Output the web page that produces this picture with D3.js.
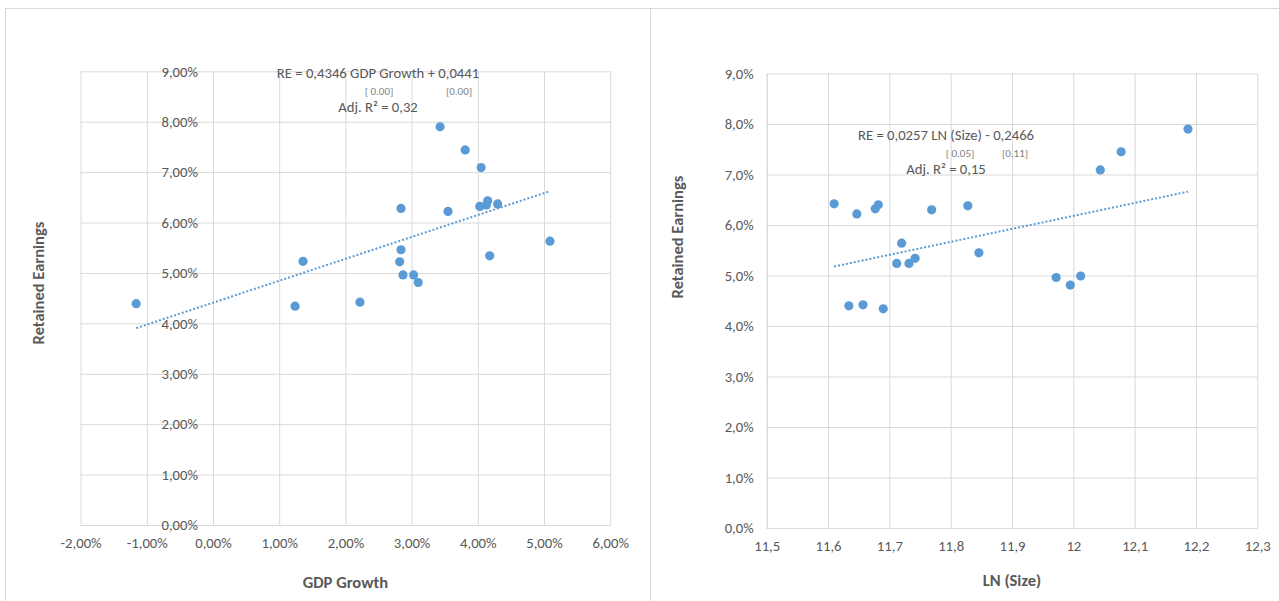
<!DOCTYPE html>
<html>
<head>
<meta charset="utf-8">
<script src="https://cdn.jsdelivr.net/npm/d3@7"></script>
<style>
  body { margin: 0; background: #ffffff; }
  svg text { font-family: Calibri, Carlito, "Liberation Sans", Arial, sans-serif; }
</style>
</head>
<body>
<svg id="chart" width="1279" height="601"></svg>
<script>
// Retained earnings against GDP growth (one point per year)
const gdpGrowth = [-0.0116, 0.0124, 0.0136, 0.0222, 0.0282, 0.0284, 0.0284, 0.0287, 0.0303, 0.0310,
                   0.0343, 0.0355, 0.0381, 0.0403, 0.0405, 0.0413, 0.0415, 0.0418, 0.0430, 0.0509];
const reByGdp   = [0.0439, 0.0434, 0.0523, 0.0442, 0.0522, 0.0546, 0.0628, 0.0496, 0.0496, 0.0481,
                   0.0790, 0.0622, 0.0744, 0.0632, 0.0709, 0.0635, 0.0643, 0.0534, 0.0637, 0.0563];

// Retained earnings against LN (Size)
const lnSize    = [11.610, 11.634, 11.647, 11.657, 11.677, 11.682, 11.690, 11.712, 11.720, 11.732,
                   11.742, 11.769, 11.828, 11.846, 11.972, 11.995, 12.012, 12.044, 12.078, 12.187];
const reBySize  = [0.0642, 0.0440, 0.0622, 0.0442, 0.0632, 0.0640, 0.0434, 0.0524, 0.0564, 0.0524,
                   0.0534, 0.0630, 0.0638, 0.0545, 0.0496, 0.0481, 0.0499, 0.0709, 0.0745, 0.0790];

// Axis ticks
const gdpTicks  = [-0.02, -0.01, 0, 0.01, 0.02, 0.03, 0.04, 0.05, 0.06];
const sizeTicks = [11.5, 11.6, 11.7, 11.8, 11.9, 12.0, 12.1, 12.2, 12.3];
const reTicks   = [0, 0.01, 0.02, 0.03, 0.04, 0.05, 0.06, 0.07, 0.08, 0.09];

// Fitted regression lines
const gdpFit  = { slope: 0.4346, intercept: 0.0441 };
const sizeFit = { slope: 0.0257, intercept: -0.2466 };

// Equation annotations
const gdpEquation  = "RE = 0,4346 GDP Growth + 0,0441";
const gdpPValues   = ["[ 0.00]", "[0.00]"];
const gdpR2        = "Adj. R² = 0,32";
const sizeEquation = "RE = 0,0257 LN (Size) - 0,2466";
const sizePValues  = ["[ 0.05]", "[0.11]"];
const sizeR2       = "Adj. R² = 0,15";

const GRID = "#d9d9d9";
const TEXT = "#595959";
const DOT  = "#5b9bd5";
const FS = 14.7;        // tick and annotation text
const FS_TITLE = 16.5;  // axis titles

const loc = d3.formatLocale({ decimal: ",", thousands: ".", grouping: [3], currency: ["", ""], minus: "-" });
const pct2 = loc.format(".2%");
const pct1 = loc.format(".1%");
const num1 = v => (Math.abs(v - Math.round(v)) < 1e-9 ? String(Math.round(v)) : loc.format(".1f")(v));

const svg = d3.select("#chart");

// Chart frames
svg.append("rect").attr("x", 5.5).attr("y", 8.5).attr("width", 645).attr("height", 700)
  .attr("fill", "none").attr("stroke", GRID);
svg.append("rect").attr("x", 650.5).attr("y", 8.5).attr("width", 700).attr("height", 700)
  .attr("fill", "none").attr("stroke", GRID);

function panel(cfg) {
  const g = svg.append("g");
  const x = d3.scaleLinear().domain(cfg.xDomain).range(cfg.xRange);
  const y = d3.scaleLinear().domain([0, 0.09]).range(cfg.yRange);
  const [x0, x1] = cfg.xRange;
  const [y0, y1] = cfg.yRange;

  // horizontal gridlines
  g.append("g").attr("transform", `translate(${x0},0)`)
    .call(d3.axisLeft(y).tickValues(reTicks).tickSize(-(x1 - x0)).tickFormat(""))
    .call(a => a.select(".domain").remove())
    .call(a => a.selectAll(".tick line").attr("stroke", GRID));

  // vertical gridlines + x tick labels
  g.append("g").attr("transform", `translate(0,${y0})`)
    .call(d3.axisBottom(x).tickValues(cfg.xTicks).tickSize(-(y0 - y1)).tickSizeOuter(0)
      .tickPadding(13).tickFormat(cfg.xFormat))
    .call(a => a.select(".domain").attr("stroke", GRID))
    .call(a => a.selectAll(".tick line").attr("stroke", GRID))
    .call(a => a.selectAll("text").attr("fill", TEXT).attr("font-size", FS));

  // y axis line and labels
  g.append("g").attr("transform", `translate(${x(cfg.yAxisAt)},0)`)
    .call(d3.axisLeft(y).tickValues(reTicks).tickSize(0).tickPadding(cfg.yPad).tickFormat(cfg.yFormat))
    .call(a => a.select(".domain").attr("stroke", GRID))
    .call(a => a.selectAll("text").attr("fill", TEXT).attr("font-size", FS));

  // axis titles
  g.append("text").attr("x", (x0 + x1) / 2).attr("y", cfg.xTitleY)
    .attr("text-anchor", "middle").attr("font-size", FS_TITLE).attr("font-weight", "bold")
    .attr("fill", TEXT).text(cfg.xTitle);
  g.append("text")
    .attr("transform", `translate(${cfg.yTitlePos[0]},${cfg.yTitlePos[1]}) rotate(-90)`)
    .attr("text-anchor", "middle").attr("dy", "0.35em").attr("font-size", FS_TITLE).attr("font-weight", "bold")
    .attr("fill", TEXT).text("Retained Earnings");

  // trendline over the observed range
  const ext = d3.extent(cfg.xs);
  g.append("line")
    .attr("x1", x(ext[0])).attr("y1", y(cfg.fit.slope * ext[0] + cfg.fit.intercept))
    .attr("x2", x(ext[1])).attr("y2", y(cfg.fit.slope * ext[1] + cfg.fit.intercept))
    .attr("stroke", DOT).attr("stroke-width", 2).attr("stroke-dasharray", "2 2");

  // observations
  g.selectAll("circle").data(d3.zip(cfg.xs, cfg.ys)).join("circle")
    .attr("cx", d => x(d[0])).attr("cy", d => y(d[1])).attr("r", 4.6).attr("fill", DOT);

  // regression annotation
  const [ex, ey] = cfg.eqPos;
  g.append("text").attr("x", ex).attr("y", ey).attr("text-anchor", "middle")
    .attr("font-size", FS).attr("fill", TEXT).text(cfg.eq);
  cfg.pv.forEach((t, i) => {
    g.append("text").attr("x", cfg.pvX[i]).attr("y", ey + 17).attr("text-anchor", "middle")
      .attr("font-size", 11).attr("fill", "#7f7f7f").text(t);
  });
  g.append("text").attr("x", cfg.r2X).attr("y", ey + 34).attr("text-anchor", "middle")
    .attr("font-size", FS).attr("fill", TEXT).text(cfg.r2);
}

panel({
  xDomain: [-0.02, 0.06], xRange: [80.6, 610.2], yRange: [525, 71.3],
  xTicks: gdpTicks, xFormat: pct2, yFormat: pct2, yAxisAt: 0, yPad: 15,
  xTitle: "GDP Growth", xTitleY: 588, yTitlePos: [38, 283],
  xs: gdpGrowth, ys: reByGdp, fit: gdpFit,
  eq: gdpEquation, eqPos: [378, 78], pv: gdpPValues, pvX: [379, 459], r2: gdpR2, r2X: 378
});

panel({
  xDomain: [11.5, 12.3], xRange: [766.7, 1257.3], yRange: [528, 73.5],
  xTicks: sizeTicks, xFormat: num1, yFormat: pct1, yAxisAt: 11.5, yPad: 13,
  xTitle: "LN (Size)", xTitleY: 586, yTitlePos: [677, 237],
  xs: lnSize, ys: reBySize, fit: sizeFit,
  eq: sizeEquation, eqPos: [946, 140], pv: sizePValues, pvX: [960, 1015], r2: sizeR2, r2X: 946
});
</script>
</body>
</html>
